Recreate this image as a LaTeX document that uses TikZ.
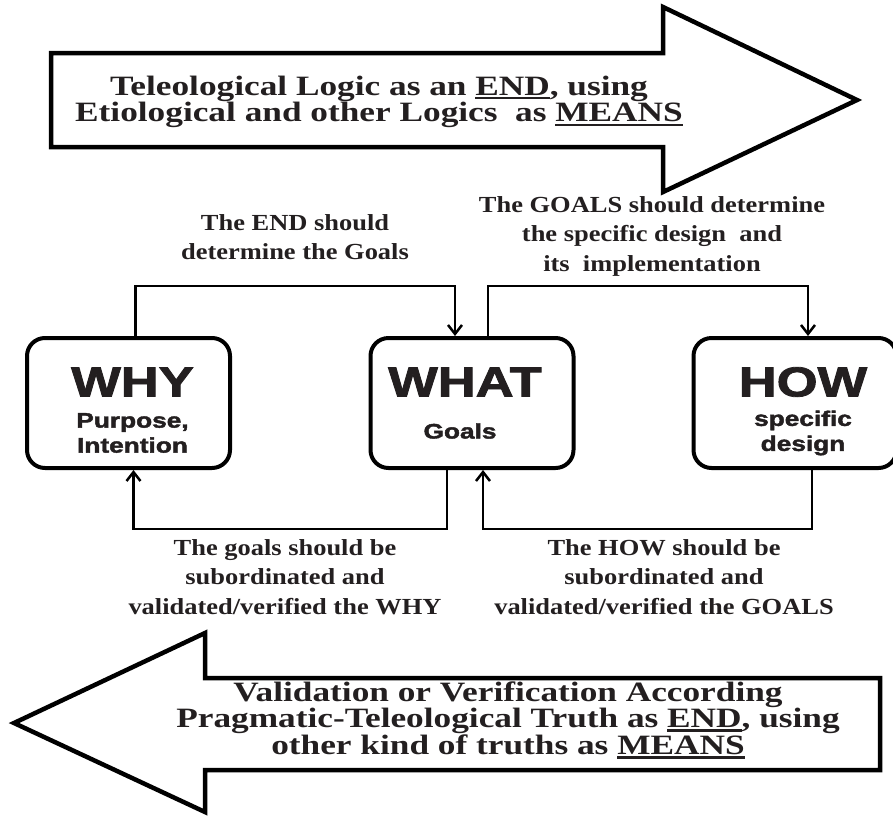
\documentclass[tikz,border=0pt]{standalone}
\usepackage{fontspec}
\setmainfont{Liberation Serif}
\newfontfamily\heavyfont[FakeBold=1.8]{Liberation Sans Bold}
\usetikzlibrary{arrows.meta}
\definecolor{ink}{HTML}{231F20}
% thick rule under a word
\newcommand{\ulword}[1]{\setbox0\hbox{#1}\rlap{\rule[-4pt]{\wd0}{2.4pt}}\box0}

\tikzset{
  bigarrow/.style={draw=black,line width=4.5pt,line join=miter,fill=white},
  arrowtext/.style={font=\fontsize{28}{21.5}\selectfont\bfseries,xscale=1.26,align=center,text=ink,inner sep=0pt},
  roundbox/.style={draw,line width=4pt,rounded corners=18pt,minimum width=203pt,minimum height=130pt},
  boxtitle/.style={font=\fontsize{42}{42}\selectfont\heavyfont,xscale=1.25,text=ink,inner sep=0pt},
  boxsub/.style={font=\fontsize{21}{25}\selectfont\heavyfont,xscale=1.25,align=center,text=ink,inner sep=0pt},
  linknote/.style={font=\fontsize{23}{29.5}\selectfont\bfseries,xscale=1.15,align=center,text=ink,inner sep=0pt},
  link/.style={line width=2.5pt,-{Straight Barb[length=9pt,width=14pt]}},
}

\begin{document}
\begin{tikzpicture}[x=1pt,y=-1pt,line cap=butt]
  \useasboundingbox (0,0) rectangle (893,817);

  % the two big block arrows
  \draw[bigarrow] (51,53) -- (663,53) -- (663,7) -- (857,100) -- (663,192) -- (663,147) -- (51,147) -- cycle;
  \draw[bigarrow] (880,678) -- (205,678) -- (205,633) -- (14,723) -- (205,812) -- (205,770) -- (880,770) -- cycle;
  \node[arrowtext] (endtext) at (379,102) {Teleological Logic as an \ulword{END}, using\\Etiological and other Logics~ as \ulword{MEANS}};
  \node[arrowtext] (truthtext) at (508,720) {Validation or Verification According\\Pragmatic-Teleological Truth as \ulword{END}, using\\other kind of truths as \ulword{MEANS}};

  % boxes
  \node[roundbox] (why) at (128.5,403) {};
  \node[roundbox] (what) at (472,403) {};
  \node[roundbox] (how) at (795,403) {};
  \node[boxtitle] (whytitle) at ([xshift=4pt,yshift=21pt]why.center) {WHY};
  \node[boxsub] (whysub) at ([xshift=4pt,yshift=-30pt]why.center) {Purpose,\\Intention};
  \node[boxtitle] (whattitle) at ([xshift=-7pt,yshift=21pt]what.center) {WHAT};
  \node[boxsub] (whatsub) at ([xshift=-12pt,yshift=-28pt]what.center) {Goals};
  \node[boxtitle] (howtitle) at ([xshift=8pt,yshift=21pt]how.center) {HOW};
  \node[boxsub] (howsub) at ([xshift=8pt,yshift=-30pt]how.center) {specific\\design};

  % connectors
  \draw[link] ([xshift=7pt]why.north) -- ++(0,-50) -| ([xshift=-17pt]what.north);
  \draw[link] ([xshift=16pt]what.north) -- ++(0,-50) -| ([xshift=13pt]how.north);
  \draw[link] ([xshift=-25pt]what.south) -- ++(0,59) -| ([xshift=5pt]why.south);
  \draw[link] ([xshift=17pt]how.south) -- ++(0,59) -| ([xshift=11pt]what.south);

  \node[linknote] (endnote) at (295,237) {The END should\\determine the Goals};
  \node[linknote] (goalsnote) at (652,236) {The GOALS should determine\\the specific design~ and\\its~ implementation};
  \node[linknote] (whynote) at (285,577) {The goals should be\\subordinated and\\validated/verified the WHY};
  \node[linknote] (hownote) at (664,577) {The HOW should be\\subordinated and\\validated/verified the GOALS};
\end{tikzpicture}
\end{document}
